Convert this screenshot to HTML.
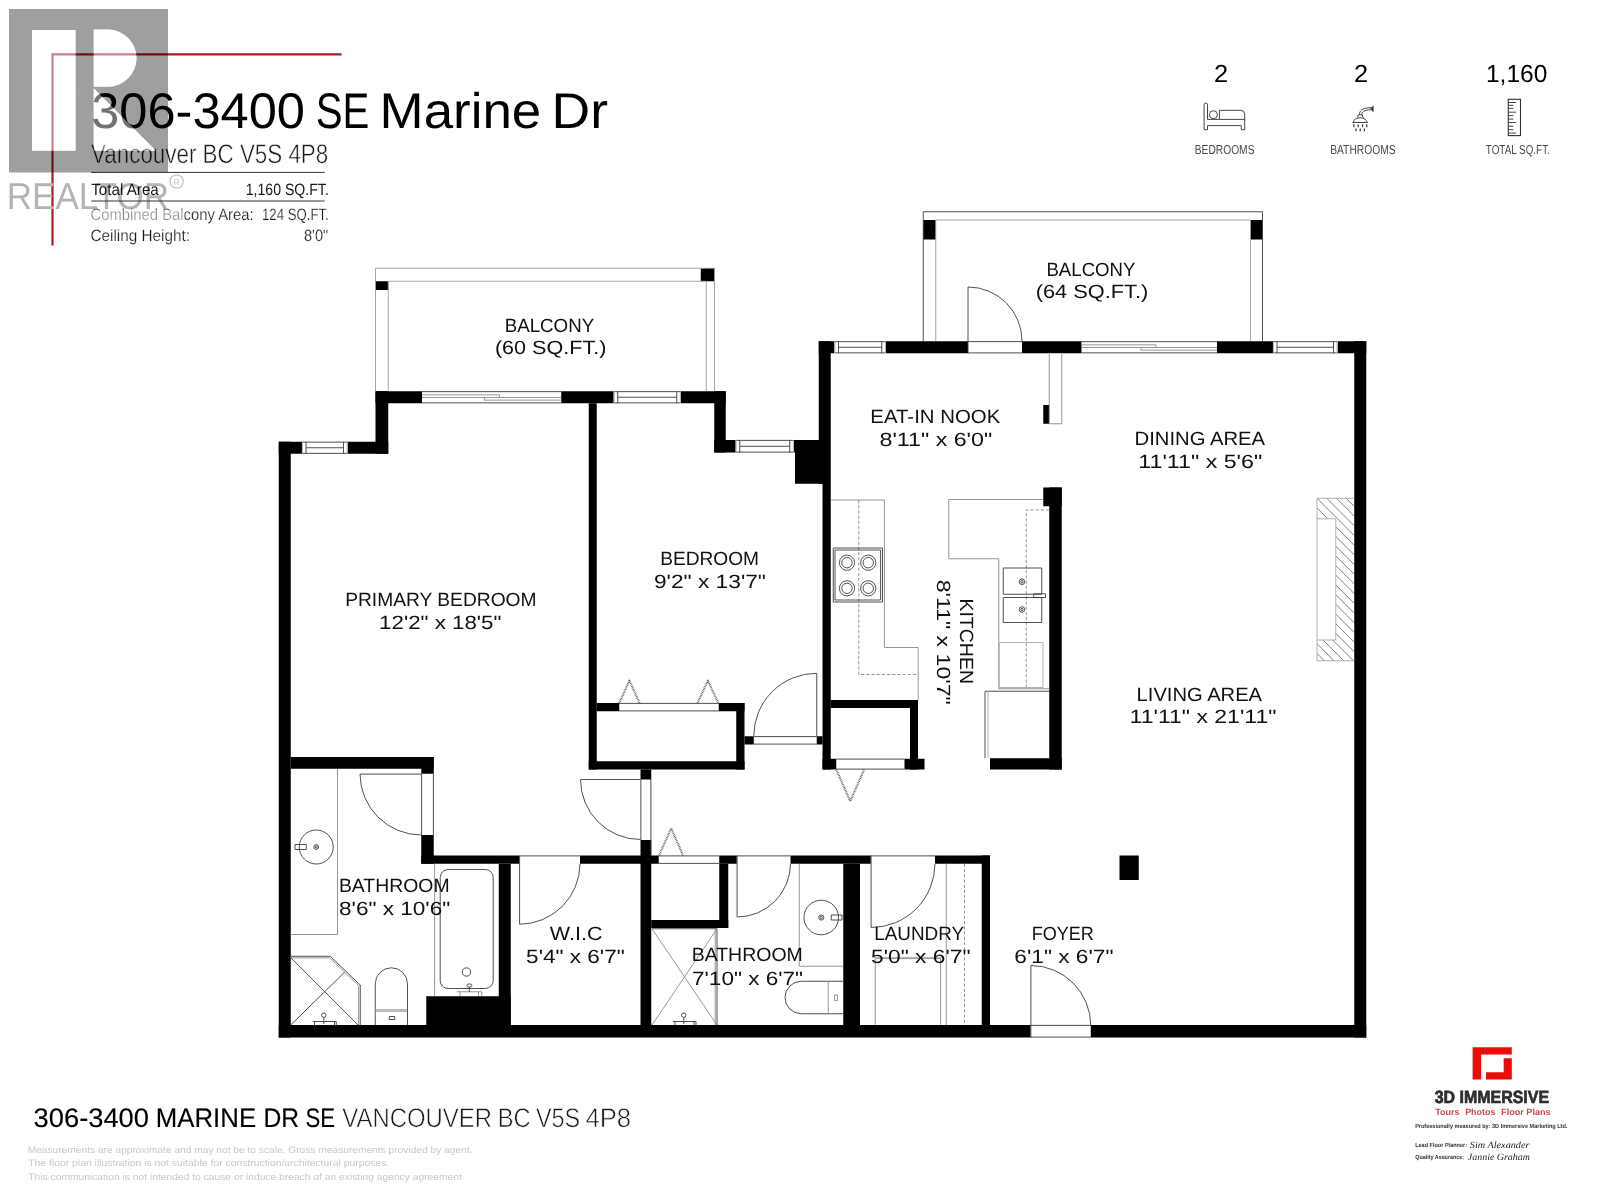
<!DOCTYPE html>
<html><head><meta charset="utf-8"><title>306-3400 SE Marine Dr</title>
<style>
html,body{margin:0;padding:0;background:#fff;}
body{width:1600px;height:1200px;overflow:hidden;font-family:"Liberation Sans",sans-serif;}
svg{display:block;position:absolute;left:0;top:0;will-change:transform;}
text{font-family:"Liberation Sans",sans-serif;text-rendering:geometricPrecision;}
.t{fill:none;stroke:#3c3c3c;stroke-width:0.9;}
.g{fill:none;stroke:#8a8a8a;stroke-width:0.9;}
.bl{fill:none;stroke:#9c9c9c;stroke-width:0.9;}
.bf{fill:none;stroke:#5a5a5a;stroke-width:2.1;stroke-dasharray:0.8 0.8;stroke-linejoin:round;}
.lg{fill:none;stroke:#a8a8a8;stroke-width:0.9;}
.d{fill:none;stroke:#8a8a8a;stroke-width:0.9;stroke-dasharray:3.2 2;}
.h{fill:none;stroke:#444;stroke-width:0.7;}
.rl{fill:#111;}
.ic{fill:none;stroke:#444;stroke-width:1;}
.hd{fill:#000;}
.hs{fill:#151515;}
.hl{fill:#1a1a1a;stroke:#fff;stroke-width:0.5;}
.hr{fill:#1a1a1a;stroke:#fff;stroke-width:0.22;}
.fl{fill:#1a1a1a;stroke:#fff;stroke-width:0.6;}
.fb{fill:#000;stroke:#000;stroke-width:0.15;}
.il{fill:#4a4a4a;}
.dc{fill:#c9c9c9;}
.lb{fill:#2e2e2e;font-weight:bold;stroke:#2e2e2e;stroke-width:0.7;}
.lr{fill:#cb4950;font-weight:bold;}
.ls{fill:#333;font-weight:bold;}
.sg{fill:#222;font-family:"Liberation Serif",serif;font-style:italic;}
.rw{fill:#b4b4b4;}
</style></head><body>
<svg width="1600" height="1200" viewBox="0 0 1600 1200">
<rect x="0" y="0" width="1600" height="1200" fill="#fff"/>

<g id="walls">
<rect x="278.75" y="441.75" width="12" height="595.75" fill="#000" />
<rect x="278.75" y="1025" width="751.75" height="12.5" fill="#000" />
<rect x="1090.75" y="1025" width="275.5" height="12.5" fill="#000" />
<rect x="1354.25" y="341.25" width="12" height="696.25" fill="#000" />
<rect x="818.75" y="341.25" width="15.75" height="12" fill="#000" />
<rect x="885.75" y="341.25" width="82.25" height="12" fill="#000" />
<rect x="1022" y="341.25" width="59.5" height="12" fill="#000" />
<rect x="1217" y="341.25" width="56" height="12" fill="#000" />
<rect x="1337.5" y="341.25" width="28.75" height="12" fill="#000" />
<rect x="818.75" y="341.25" width="12" height="142.75" fill="#000" />
<rect x="822.5" y="484" width="8.25" height="285.5" fill="#000" />
<rect x="795" y="440" width="24" height="43.75" fill="#000" />
<rect x="714.25" y="440" width="21.5" height="12.5" fill="#000" />
<rect x="793.5" y="440" width="2.5" height="12.5" fill="#000" />
<rect x="714.25" y="391.25" width="11.5" height="61.25" fill="#000" />
<rect x="375.5" y="391.25" width="46.5" height="12" fill="#000" />
<rect x="561.25" y="391.25" width="52.5" height="12" fill="#000" />
<rect x="680.75" y="391.25" width="45" height="12" fill="#000" />
<rect x="375.5" y="391.25" width="12.75" height="62.5" fill="#000" />
<rect x="278.75" y="441.75" width="23.25" height="12" fill="#000" />
<rect x="347.5" y="441.75" width="40.75" height="12" fill="#000" />
<rect x="588.75" y="403.25" width="8" height="366.25" fill="#000" />
<rect x="596.75" y="703" width="22.5" height="8.25" fill="#000" />
<rect x="718.75" y="703" width="25.75" height="8.25" fill="#000" />
<rect x="736.25" y="703" width="8.25" height="66.5" fill="#000" />
<rect x="588.75" y="761.25" width="155.75" height="8.25" fill="#000" />
<rect x="640.5" y="769.5" width="10.75" height="10" fill="#000" />
<rect x="744.5" y="736.25" width="9.25" height="8.25" fill="#000" />
<rect x="816.75" y="736.25" width="5.75" height="8.25" fill="#000" />
<rect x="830.75" y="700" width="87.25" height="8" fill="#000" />
<rect x="910" y="700" width="8" height="69.5" fill="#000" />
<rect x="822.5" y="758.75" width="13.75" height="10.75" fill="#000" />
<rect x="904.5" y="758.75" width="20" height="10.75" fill="#000" />
<rect x="1043.25" y="487.5" width="18.5" height="18.75" fill="#000" />
<rect x="1049.25" y="487.5" width="12.5" height="282" fill="#000" />
<rect x="990" y="758.25" width="71.75" height="11.25" fill="#000" />
<rect x="1043.25" y="405" width="6" height="18.75" fill="#000" />
<rect x="290.75" y="757" width="143" height="11.75" fill="#000" />
<rect x="421.25" y="757" width="12.5" height="16.75" fill="#000" />
<rect x="421.25" y="835" width="12.5" height="28.75" fill="#000" />
<rect x="421.25" y="855.5" width="98" height="8.25" fill="#000" />
<rect x="580" y="855.5" width="78.75" height="8.25" fill="#000" />
<rect x="719.25" y="855.5" width="17.5" height="8.25" fill="#000" />
<rect x="790.5" y="855.5" width="80.25" height="8.25" fill="#000" />
<rect x="935" y="855.5" width="55" height="8.25" fill="#000" />
<rect x="498.75" y="863.75" width="12" height="161.25" fill="#000" />
<rect x="426.25" y="996.25" width="84.5" height="28.75" fill="#000" />
<rect x="640.5" y="840" width="10.75" height="185" fill="#000" />
<rect x="719.25" y="863.75" width="9" height="64.25" fill="#000" />
<rect x="651.25" y="920" width="77" height="8" fill="#000" />
<rect x="843.25" y="863.75" width="16.75" height="161.25" fill="#000" />
<rect x="981.75" y="855.5" width="8.25" height="169.5" fill="#000" />
<rect x="1119.5" y="855.5" width="19.25" height="24.5" fill="#000" />
<rect x="375.5" y="281.25" width="12.75" height="8.75" fill="#000" />
<rect x="700.75" y="268.25" width="13.75" height="13" fill="#000" />
<rect x="923.25" y="220" width="12.5" height="19.5" fill="#000" />
<rect x="1250.5" y="220" width="12" height="19.5" fill="#000" />
</g>
<g id="balconies">
<path class="bl" d="M375.5 391.25V268.25H714.5V391.25"/>
<path class="bl" d="M388.25 391.25V281.25H706.25V391.25"/>
<path class="t" d="M923.25 341.25V211.75H1262.5V341.25"/>
<path class="bl" d="M935.75 341.25V220H1250.5V341.25"/>
</g>
<g id="windows">
<rect x="302" y="441.75" width="45.5" height="12" fill="#fff" />
<path class="t" d="M302 442.15H347.5M302 453.35H347.5"/>
<path class="lg" d="M302.4 441.75V453.75M347.1 441.75V453.75"/>
<path class="t" d="M306 441.75V453.75M343.5 441.75V453.75M306 447.75H343.5"/>
<rect x="613.75" y="391.25" width="67" height="12" fill="#fff" />
<path class="t" d="M613.75 391.65H680.75M613.75 402.85H680.75"/>
<path class="lg" d="M614.15 391.25V403.25M680.35 391.25V403.25"/>
<path class="t" d="M617.75 391.25V403.25M676.75 391.25V403.25M617.75 397.25H676.75"/>
<rect x="735.75" y="440" width="58" height="12.5" fill="#fff" />
<path class="t" d="M735.75 440.4H793.75M735.75 452.1H793.75"/>
<path class="lg" d="M736.15 440V452.5M793.35 440V452.5"/>
<path class="t" d="M739.75 440V452.5M789.75 440V452.5M739.75 446.25H789.75"/>
<rect x="834.5" y="341.25" width="51.25" height="12" fill="#fff" />
<path class="t" d="M834.5 341.65H885.75M834.5 352.85H885.75"/>
<path class="lg" d="M834.9 341.25V353.25M885.35 341.25V353.25"/>
<path class="t" d="M838.5 341.25V353.25M881.75 341.25V353.25M838.5 347.25H881.75"/>
<rect x="1273" y="341.25" width="64.5" height="12" fill="#fff" />
<path class="t" d="M1273 341.65H1337.5M1273 352.85H1337.5"/>
<path class="lg" d="M1273.4 341.25V353.25M1337.1 341.25V353.25"/>
<path class="t" d="M1277 341.25V353.25M1333.5 341.25V353.25M1277 347.25H1333.5"/>
<path class="t" d="M422 391.65H561.25M422 402.85H561.25"/>
<path class="g" d="M422 394.85H499.6V397.49M422 397.49H561.25M484.4 397.49V400.13H561.25"/>
<path class="t" d="M1081.5 341.65H1217M1081.5 352.85H1217"/>
<path class="g" d="M1081.5 344.85H1156V347.49M1081.5 347.49H1217M1141 347.49V350.13H1217"/>
</g>
<g id="doors">
<path class="t" d="M968 353.25V287A54 54 0 0 1 1022 341.25M968 341.6H1022M968 352.9H1022"/>
<path class="t" d="M816.75 736.25V673.25A63 63 0 0 0 753.75 736.25M753.75 736.6H816.75M753.75 744.1H816.75"/>
<path class="t" d="M640.5 779.5H580.5A60 60 0 0 0 640.5 839.5"/>
<path class="t" d="M640.9 779.5V840M650.9 779.5V856"/>
<path class="t" d="M421.25 774.1H360A61.25 61.25 0 0 0 421.25 835"/>
<path class="t" d="M421.6 773.75V835M433.4 773.75V835"/>
<path class="t" d="M519.6 855.5V924.25A60.75 60.75 0 0 0 580 863.75M519.25 855.9H580"/>
<path class="t" d="M737.1 855.5V917A53.5 53.5 0 0 0 790.5 863.75M736.75 855.9H790.5"/>
<path class="t" d="M871.1 855.5V927.5A64 64 0 0 0 935 863.75M870.75 855.9H935"/>
<path class="t" d="M1030.9 1037.5V965.5A60 60 0 0 1 1090.75 1025.4M1030.5 1025.4H1090.75M1030.5 1037.1H1090.75"/>
<path class="bf" d="M619.25 703L629.4 680.7L639.7 703M697.5 703L707.9 680.7L718.4 703"/>
<path class="t" d="M619.25 703.4H718.75M619.25 710.9H718.75"/>
<path class="bf" d="M836.25 769.5L850.2 801.2L864.2 769.5"/>
<path class="t" d="M836.25 759.1H904.5M836.25 769.1H904.5"/>
<path class="bf" d="M658.9 855.5L671.25 828.2L683 855.5"/>
<path class="t" d="M658.75 855.9H719.25M658.75 863.4H719.25"/>
</g>
<g id="kitchen">
<path class="g" d="M1049.25 353.25V423.75H1061.75V353.25"/>
<path class="g" d="M830.75 500H884.4V647.5H918.2V700"/>
<path class="d" d="M858.75 500V674.5H918.2"/>
<path class="t" d="M833.25 548H882.5V602H833.25Z"/>
<path class="t" d="M835 550H880.6V600H835Z"/>
<circle class="t" cx="847" cy="562.7" r="7.6"/><circle class="t" cx="847" cy="562.7" r="5.2"/>
<circle class="t" cx="847" cy="588.3" r="7.6"/><circle class="t" cx="847" cy="588.3" r="5.2"/>
<circle class="t" cx="868.25" cy="562.7" r="7.6"/><circle class="t" cx="868.25" cy="562.7" r="5.2"/>
<circle class="t" cx="868.25" cy="588.3" r="7.6"/><circle class="t" cx="868.25" cy="588.3" r="5.2"/>
<path class="g" d="M1043.25 499.5H948.75V558.75H998.75V688.75"/>
<path class="d" d="M1049.25 510H1026.25V688.75"/>
<path class="t" d="M1003.25 568H1041.75V594.25H1003.25Z"/>
<path class="t" d="M1003.25 597.5H1041.75V622.5H1003.25Z"/>
<circle class="t" cx="1022" cy="581.75" r="2.8"/><circle class="t" cx="1022" cy="609.5" r="2.8"/>
<circle class="t" cx="1022" cy="581.75" r="1.2"/><circle class="t" cx="1022" cy="609.5" r="1.2"/>
<path class="t" d="M1033.75 593.75H1045.5V597.6H1033.75Z"/>
<path class="lg" d="M999.25 642.5H1043V687.5H999.25Z"/>
<path class="g" d="M998.75 688.75H1049.25"/>
<path class="t" d="M985 691.25H1049.25M985 691.25V758.25"/>
<path class="lg" d="M988 691.25V758.25"/>
</g>
<defs><clipPath id="fpclip"><path d="M1317 498.25H1354.25V660.75H1317V640H1335.75V518.75H1317Z"/></clipPath></defs>
<g id="fireplace">
<path d="M1316 448.75L1355 487.75M1316 458.45L1355 497.45M1316 468.15L1355 507.15M1316 477.85L1355 516.85M1316 487.55L1355 526.55M1316 497.25L1355 536.25M1316 506.95L1355 545.95M1316 516.65L1355 555.65M1316 526.35L1355 565.35M1316 536.05L1355 575.05M1316 545.75L1355 584.75M1316 555.45L1355 594.45M1316 565.15L1355 604.15M1316 574.85L1355 613.85M1316 584.55L1355 623.55M1316 594.25L1355 633.25M1316 603.95L1355 642.95M1316 613.65L1355 652.65M1316 623.35L1355 662.35M1316 633.05L1355 672.05M1316 642.75L1355 681.75M1316 652.45L1355 691.45M1316 662.15L1355 701.15" fill="none" stroke="#4a4a4a" stroke-width="0.7" clip-path="url(#fpclip)"/>
<path class="lg" d="M1317 498.25H1354.25M1317 660.75H1354.25M1317 498.25V660.75M1317 518.75H1335.75V640H1317"/>
</g>
<g id="bath1">
<path class="g" d="M337.5 768.75V934.5H290.75"/>
<circle class="t" cx="316.25" cy="847" r="17"/>
<circle class="t" cx="316.25" cy="847" r="2.4"/><circle class="t" cx="316.25" cy="847" r="1"/>
<path class="t" d="M295 844.5H306.25V849.5H295Z"/>
<path class="g" d="M434.6 863.75V996.25"/>
<rect class="t" x="440.2" y="869.5" width="53" height="119" rx="8" ry="8"/>
<circle class="t" cx="466.5" cy="972" r="4.1"/>
<path class="g" d="M457 991.75H481.75V996M460 991.75V996M478.5 991.75V996"/>
<path class="t" d="M469.3 987V992"/>
<ellipse class="t" cx="469.3" cy="985.5" rx="2.6" ry="1.6"/>
<path class="t" d="M290.75 956.3H330.25L360.25 985V1025"/>
<path class="g" d="M290.75 957.9H329.6L358.7 985.7V1025"/>
<path class="t" d="M290.75 957.7L358 1025M290.75 1025L344.5 972.25"/>
<circle class="t" cx="323.8" cy="1015.2" r="2.2"/>
<path class="t" d="M323.8 1017.4V1024M312.7 1021.5H336.25V1025M314.5 1021.5V1025M334.5 1021.5V1025"/>
<path class="t" d="M375.25 1025V983.9A16.1 16.1 0 0 1 407.5 983.9V1025"/>
<path class="g" d="M375.25 1009.8H407.5M375.25 1011.2H407.5"/>
<path class="t" d="M389.2 1016.5H394.75V1019.5H389.2Z"/>
</g>
<g id="bath2">
<path class="t" d="M652 928.75H717V1025"/>
<path class="g" d="M715.2 928.75V1025"/>
<path class="g" d="M652 928.75L717 1025M717 928.75L652 1025"/>
<circle class="t" cx="683.75" cy="1015.2" r="2.2"/>
<path class="t" d="M683.75 1017.4V1024M673 1021.5H696V1025M675 1021.5V1025M694 1021.5V1025"/>
<path class="g" d="M799.25 863.75V966.25H843.25"/>
<circle class="t" cx="821.25" cy="917.5" r="17.3"/>
<circle class="t" cx="821.25" cy="917.5" r="2.6"/><circle class="t" cx="821.25" cy="917.5" r="1.1"/>
<path class="t" d="M831.25 915H842V920H831.25Z"/>
<path class="t" d="M843.25 981.25H801.25A16.25 16.25 0 0 0 801.25 1013.75H843.25"/>
<path class="g" d="M828.25 981.25V1013.75"/>
<path class="g" d="M834.5 995H837.5V1000.5H834.5Z"/>
</g>
<g id="laundry">
<path class="g" d="M946.25 863.75V1025"/>
<path class="d" d="M964.5 863.75V1025"/>
<path class="g" d="M875.3 1025V958.6H940.6V1025"/>
<path class="lg" d="M872 957.4H944"/>
</g>
<g id="labels">
<text class="rl" x="504.71" y="331.75" font-size="19.1" textLength="89.47" lengthAdjust="spacingAndGlyphs" >BALCONY</text>
<text class="rl" x="494.93" y="354.25" font-size="19.1" textLength="111.41" lengthAdjust="spacingAndGlyphs" >(60 SQ.FT.)</text>
<text class="rl" x="1046.46" y="275.75" font-size="19.1" textLength="88.95" lengthAdjust="spacingAndGlyphs" >BALCONY</text>
<text class="rl" x="1035.66" y="298.25" font-size="19.1" textLength="112.69" lengthAdjust="spacingAndGlyphs" >(64 SQ.FT.)</text>
<text class="rl" x="870.35" y="423.25" font-size="19.1" textLength="129.91" lengthAdjust="spacingAndGlyphs" >EAT-IN NOOK</text>
<text class="rl" x="879.53" y="445.5" font-size="19.1" textLength="112.67" lengthAdjust="spacingAndGlyphs" >8&#39;11&quot; x 6&#39;0&quot;</text>
<text class="rl" x="1134.59" y="444.5" font-size="19.1" textLength="130.44" lengthAdjust="spacingAndGlyphs" >DINING AREA</text>
<text class="rl" x="1138.30" y="467.5" font-size="19.1" textLength="123.91" lengthAdjust="spacingAndGlyphs" >11&#39;11&quot; x 5&#39;6&quot;</text>
<text class="rl" x="345.17" y="606.25" font-size="19.1" textLength="191.40" lengthAdjust="spacingAndGlyphs" >PRIMARY BEDROOM</text>
<text class="rl" x="379.07" y="629.25" font-size="19.1" textLength="122.38" lengthAdjust="spacingAndGlyphs" >12&#39;2&quot; x 18&#39;5&quot;</text>
<text class="rl" x="660.17" y="564.5" font-size="19.1" textLength="98.91" lengthAdjust="spacingAndGlyphs" >BEDROOM</text>
<text class="rl" x="653.92" y="588" font-size="19.1" textLength="112.05" lengthAdjust="spacingAndGlyphs" >9&#39;2&quot; x 13&#39;7&quot;</text>
<text class="rl" x="1136.60" y="700.5" font-size="19.1" textLength="125.43" lengthAdjust="spacingAndGlyphs" >LIVING AREA</text>
<text class="rl" x="1129.58" y="723" font-size="19.1" textLength="146.85" lengthAdjust="spacingAndGlyphs" >11&#39;11&quot; x 21&#39;11&quot;</text>
<text class="rl" x="338.92" y="891.75" font-size="19.1" textLength="110.64" lengthAdjust="spacingAndGlyphs" >BATHROOM</text>
<text class="rl" x="339.04" y="914.5" font-size="19.1" textLength="111.17" lengthAdjust="spacingAndGlyphs" >8&#39;6&quot; x 10&#39;6&quot;</text>
<text class="rl" x="549.89" y="940" font-size="19.1" textLength="52.68" lengthAdjust="spacingAndGlyphs" >W.I.C</text>
<text class="rl" x="526.10" y="962.5" font-size="19.1" textLength="98.61" lengthAdjust="spacingAndGlyphs" >5&#39;4&quot; x 6&#39;7&quot;</text>
<text class="rl" x="691.66" y="961.25" font-size="19.1" textLength="111.15" lengthAdjust="spacingAndGlyphs" >BATHROOM</text>
<text class="rl" x="692.07" y="984.5" font-size="19.1" textLength="110.89" lengthAdjust="spacingAndGlyphs" >7&#39;10&quot; x 6&#39;7&quot;</text>
<text class="rl" x="874.20" y="939.5" font-size="19.1" textLength="89.97" lengthAdjust="spacingAndGlyphs" >LAUNDRY</text>
<text class="rl" x="871.09" y="962.5" font-size="19.1" textLength="99.38" lengthAdjust="spacingAndGlyphs" >5&#39;0&quot; x 6&#39;7&quot;</text>
<text class="rl" x="1031.76" y="939.5" font-size="19.1" textLength="62.09" lengthAdjust="spacingAndGlyphs" >FOYER</text>
<text class="rl" x="1014.36" y="962.5" font-size="19.1" textLength="99.10" lengthAdjust="spacingAndGlyphs" >6&#39;1&quot; x 6&#39;7&quot;</text>
<g transform="translate(960 600) rotate(90)">
<text class="rl" x="-1.61" y="0" font-size="19.1" textLength="85.72" lengthAdjust="spacingAndGlyphs" >KITCHEN</text>
</g>
<g transform="translate(937 580.75) rotate(90)">
<text class="rl" x="-0.97" y="0" font-size="19.1" textLength="124.91" lengthAdjust="spacingAndGlyphs" >8&#39;11&quot; x 10&#39;7&quot;</text>
</g>
</g>
<g id="header">
<path d="M52.5 245.6V54.3H341.5" fill="none" stroke="#aa1d24" stroke-width="2.2"/>
<text class="rw" x="6.66" y="208.7" font-size="37.4" textLength="162.51" lengthAdjust="spacingAndGlyphs" >REALTOR</text>
<circle cx="176.6" cy="181.5" r="6.6" fill="none" stroke="#c4c4c4" stroke-width="1.3"/>
<text x="173.6" y="185" font-size="8.5" fill="#c0c0c0">R</text>
<text class="hd" x="91.20" y="127.5" font-size="50" textLength="213.70" lengthAdjust="spacingAndGlyphs" >306-3400</text>
<text class="hd" x="315.79" y="127.5" font-size="50" textLength="53.61" lengthAdjust="spacingAndGlyphs" >SE</text>
<text class="hd" x="379.63" y="127.5" font-size="50" textLength="161.62" lengthAdjust="spacingAndGlyphs" >Marine</text>
<text class="hd" x="551.59" y="127.5" font-size="50" textLength="56.41" lengthAdjust="spacingAndGlyphs" >Dr</text>
<text class="hl" x="91.09" y="163.1" font-size="27" textLength="237.13" lengthAdjust="spacingAndGlyphs" >Vancouver BC V5S 4P8</text>
<path d="M91.25 172.4H324.7M91.25 201H324.7" fill="none" stroke="#333" stroke-width="1"/>
<text class="hs" x="91.27" y="195.3" font-size="16.4" textLength="67.53" lengthAdjust="spacingAndGlyphs" >Total Area</text>
<text class="hs" x="245.76" y="195.3" font-size="16.4" textLength="83.10" lengthAdjust="spacingAndGlyphs" >1,160 SQ.FT.</text>
<text class="hr" x="90.46" y="220.3" font-size="16.4" textLength="163.15" lengthAdjust="spacingAndGlyphs" >Combined Balcony Area:</text>
<text class="hr" x="262.03" y="220.3" font-size="16.4" textLength="66.74" lengthAdjust="spacingAndGlyphs" >124 SQ.FT.</text>
<text class="hr" x="90.43" y="240.8" font-size="16.4" textLength="99.54" lengthAdjust="spacingAndGlyphs" >Ceiling Height:</text>
<text class="hr" x="303.98" y="240.8" font-size="16.4" textLength="24.25" lengthAdjust="spacingAndGlyphs" >8&#39;0&quot;</text>
</g>
<g id="icons">
<text class="hd" x="1214.13" y="82.4" font-size="24.6" textLength="14.15" lengthAdjust="spacingAndGlyphs" >2</text>
<text class="hd" x="1354.13" y="82.4" font-size="24.6" textLength="14.15" lengthAdjust="spacingAndGlyphs" >2</text>
<text class="hd" x="1485.96" y="82.4" font-size="24.6" textLength="61.36" lengthAdjust="spacingAndGlyphs" >1,160</text>
<path class="ic" d="M1204.1 129.7V104.8A1.7 1.7 0 0 1 1207.5 104.8V119.4H1219.4V110.3H1240.7A4 4 0 0 1 1244.7 114.3V129.7H1241.25V125.6H1207.5V129.7Z"/>
<path class="ic" d="M1219.4 119.4H1244.7"/>
<circle class="ic" cx="1213.4" cy="114.7" r="4"/>
<path class="ic" d="M1352.5 122.5H1367.8M1353.1 122.5A7.1 5.4 0 0 1 1367.2 122.5M1357.5 117.6L1358.3 114.8H1362.3L1363.1 117.6"/>
<path class="ic" d="M1359.3 114.8C1359.6 110.5 1362.5 107.8 1371 107.7M1361.5 114.8C1361.8 112 1364 109.9 1371 109.8"/>
<path d="M1370.6 108.8L1373.2 105.9V111.7Z" fill="#333" stroke="#333" stroke-width="0.6"/>
<path d="M1353.9 124.2V127.2M1358.2 124.2V127.2M1362.5 124.2V127.2M1366.7 124.2V127.2M1356 128.5V131.2M1360.2 128.5V131.2M1364.4 128.5V131.2" fill="none" stroke="#333" stroke-width="1.2"/>
<rect x="1508.3" y="99.3" width="12.2" height="36.3" fill="none" stroke="#333" stroke-width="1.1"/>
<path d="M1508.3 102.5H1516M1508.3 105.3H1513.4M1508.3 108.4H1513.4M1508.3 112.2H1516M1508.3 115.6H1513.4M1508.3 119.1H1513.4M1508.3 122.5H1516M1508.3 126.25H1513.4M1508.3 129.7H1513.4M1508.3 133.1H1516" fill="none" stroke="#333" stroke-width="0.9"/>
<text class="il" x="1194.76" y="153.75" font-size="13" textLength="59.73" lengthAdjust="spacingAndGlyphs" >BEDROOMS</text>
<text class="il" x="1330.16" y="153.75" font-size="13" textLength="65.51" lengthAdjust="spacingAndGlyphs" >BATHROOMS</text>
<text class="il" x="1485.79" y="153.75" font-size="13" textLength="64.06" lengthAdjust="spacingAndGlyphs" >TOTAL SQ.FT.</text>
</g>
<g id="footer">
<text class="fb" x="33.57" y="1126.7" font-size="26.8" textLength="115.45" lengthAdjust="spacingAndGlyphs" >306-3400</text>
<text class="fb" x="155.87" y="1126.7" font-size="26.8" textLength="100.22" lengthAdjust="spacingAndGlyphs" >MARINE</text>
<text class="fb" x="263.57" y="1126.7" font-size="26.8" textLength="35.60" lengthAdjust="spacingAndGlyphs" >DR</text>
<text class="fb" x="305.40" y="1126.7" font-size="26.8" textLength="29.54" lengthAdjust="spacingAndGlyphs" >SE</text>
<text class="fl" x="342.28" y="1126.7" font-size="26.8" textLength="149.81" lengthAdjust="spacingAndGlyphs" >VANCOUVER</text>
<text class="fl" x="497.65" y="1126.7" font-size="26.8" textLength="32.90" lengthAdjust="spacingAndGlyphs" >BC</text>
<text class="fl" x="535.88" y="1126.7" font-size="26.8" textLength="44.23" lengthAdjust="spacingAndGlyphs" >V5S</text>
<text class="fl" x="585.42" y="1126.7" font-size="26.8" textLength="45.67" lengthAdjust="spacingAndGlyphs" >4P8</text>
<text class="dc" x="27.66" y="1153" font-size="9.4" textLength="444.76" lengthAdjust="spacingAndGlyphs" >Measurements are approximate and may not be to scale. Gross measurements provided by agent.</text>
<text class="dc" x="28.27" y="1166.4" font-size="9.4" textLength="360.97" lengthAdjust="spacingAndGlyphs" >The floor plan illustration is not suitable for construction/architectural purposes.</text>
<text class="dc" x="28.27" y="1180.3" font-size="9.4" textLength="433.61" lengthAdjust="spacingAndGlyphs" >This communication is not intended to cause or induce breach of an existing agency agreement</text>
</g>
<g id="logo3d">
<path d="M1472.6 1047.3H1511.8V1054.4H1481.1V1079.6H1472.6Z" fill="#ea0c08"/>
<path d="M1503.7 1058.3H1511.8V1079.6H1486V1072.3H1503.7Z" fill="#ea0c08"/>
<text class="lb" x="1434.64" y="1102.9" font-size="17.6" textLength="114.50" lengthAdjust="spacingAndGlyphs" >3D IMMERSIVE</text>
<text class="lr" x="1435.36" y="1115.2" font-size="9" textLength="23.97" lengthAdjust="spacingAndGlyphs" >Tours</text>
<text class="lr" x="1465.15" y="1115.2" font-size="9" textLength="30.21" lengthAdjust="spacingAndGlyphs" >Photos</text>
<text class="lr" x="1501.14" y="1115.2" font-size="9" textLength="49.43" lengthAdjust="spacingAndGlyphs" >Floor Plans</text>
<text class="ls" x="1415.13" y="1128.2" font-size="6" textLength="152.25" lengthAdjust="spacingAndGlyphs" >Professionally measured by: 3D Immersive Marketing Ltd.</text>
<text class="ls" x="1415.13" y="1147" font-size="6" textLength="51.90" lengthAdjust="spacingAndGlyphs" >Lead Floor Planner:</text>
<text class="ls" x="1415.29" y="1159" font-size="6" textLength="48.72" lengthAdjust="spacingAndGlyphs" >Quality Assurance:</text>
<text class="sg" x="1469.87" y="1147.5" font-size="9.5" textLength="59.60" lengthAdjust="spacingAndGlyphs" >Sim Alexander</text>
<text class="sg" x="1467.85" y="1159.5" font-size="9.5" textLength="62.07" lengthAdjust="spacingAndGlyphs" >Jannie Graham</text>
</g>
<g id="wm">
<path fill-rule="evenodd" fill="rgba(255,255,255,0.5)" d="M54 209.5H184.5V224H54Z"/>
<path fill-rule="evenodd" fill="rgba(0,0,0,0.375)" d="M9 9H168V172.5H9Z M32 30H75.6V150.7H32Z M93.7 29.6H108A28.55 28.55 0 0 1 108 86.7H93.7Z M93.7 88.3L155.9 150.7H93.7Z"/>
<path fill="rgba(255,255,255,0.45)" d="M32 30H75.6V150.7H32Z M93.7 29.6H108A28.55 28.55 0 0 1 108 86.7H93.7Z M93.7 88.3L155.9 150.7H93.7Z"/>
</g>
</svg></body></html>
